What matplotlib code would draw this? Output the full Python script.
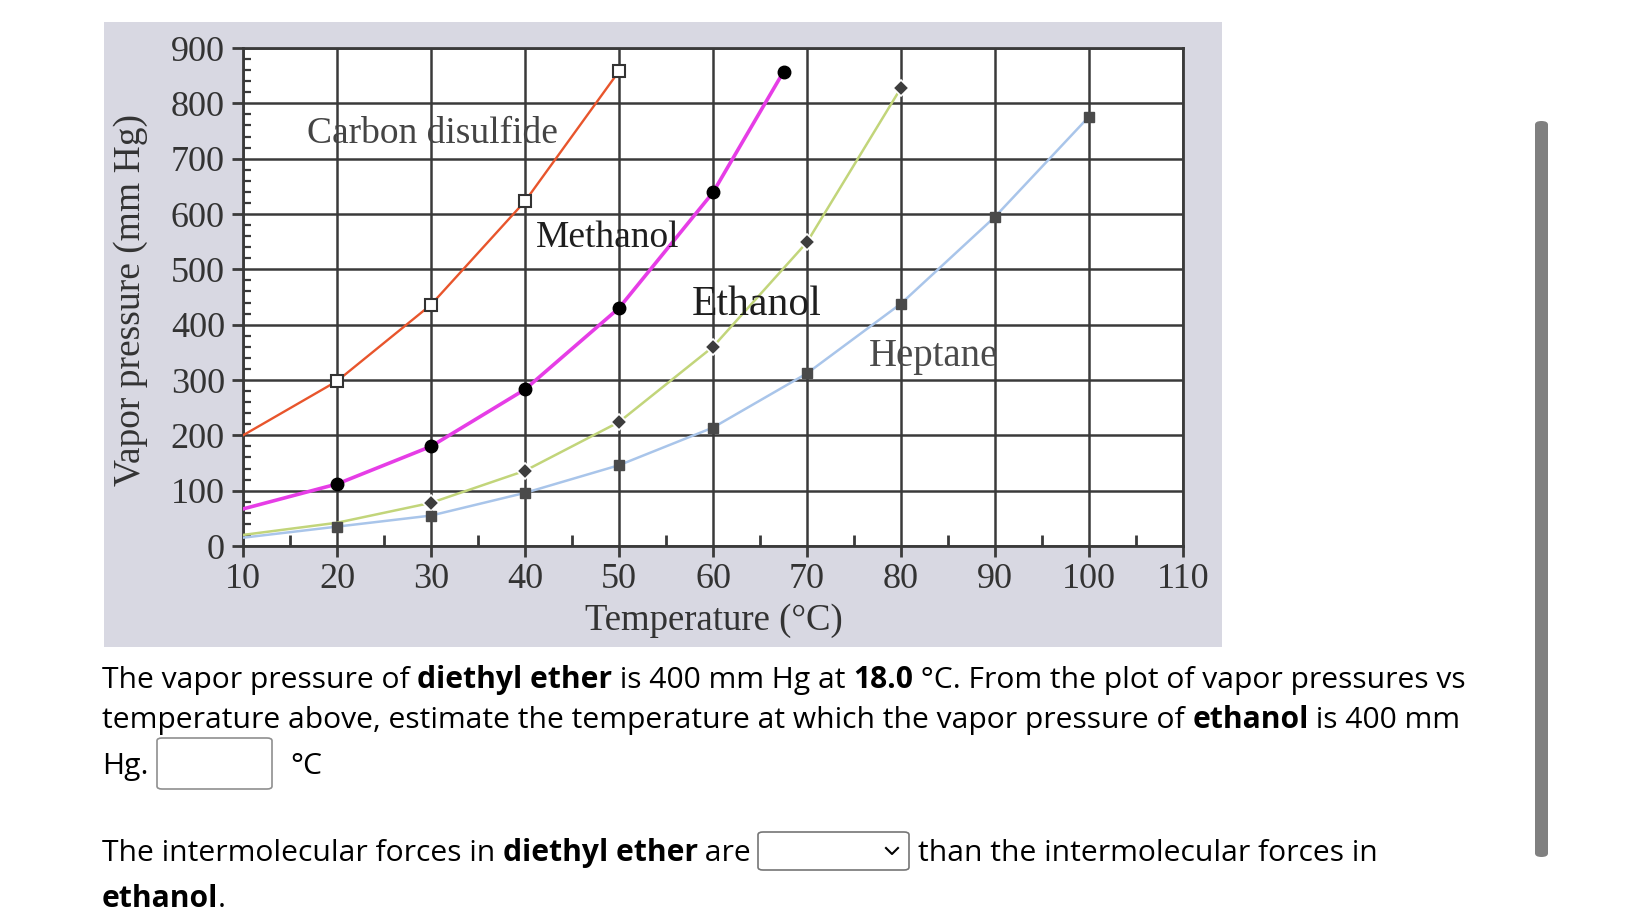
import matplotlib
matplotlib.use("Agg")
import matplotlib.pyplot as plt
from matplotlib.patches import Rectangle, FancyBboxPatch
from matplotlib.lines import Line2D
from matplotlib.ticker import MultipleLocator

# Data (temperature in C, vapor pressure in mm Hg)
cs2_temp = [10, 20, 30, 40, 50]
cs2_vp = [200, 298, 436, 623, 858]

methanol_temp = [10, 20, 30, 40, 50, 60, 67.5]
methanol_vp = [67, 112, 180, 283, 430, 639, 857]

ethanol_temp = [10, 20, 30, 40, 50, 60, 70, 80]
ethanol_vp = [20, 42, 78, 136, 224, 360, 549, 828]

heptane_temp = [10, 20, 30, 40, 50, 60, 70, 80, 90, 100]
heptane_vp = [15, 35, 55, 96, 146, 214, 312, 438, 595, 776]

x_ticks = [10, 20, 30, 40, 50, 60, 70, 80, 90, 100, 110]
y_ticks = [0, 100, 200, 300, 400, 500, 600, 700, 800, 900]

W, H = 1651, 922
fig = plt.figure(figsize=(W / 100, H / 100), dpi=100)
fig.patch.set_facecolor("white")


def fx(px):
    return px / W


def fy(py):
    return 1 - py / H


# grey photo background behind the chart
fig.patches.append(Rectangle((fx(104), fy(647)), 1118 / W, 625 / H,
                             transform=fig.transFigure, facecolor="#d8d8e2",
                             edgecolor="none", zorder=-5))

ax = fig.add_axes([fx(243), fy(546), 940 / W, 498 / H])
ax.set_facecolor("white")
grid_col = "#3a3a3a"

ax.plot(cs2_temp, cs2_vp, color="#e8552c", lw=1.7, zorder=3,
        marker="s", markevery=slice(1, None), ms=8, mfc="white", mec="#333333", mew=1.5)
ax.plot(methanol_temp, methanol_vp, color="#e63de6", lw=2.6, zorder=3,
        marker="o", markevery=slice(1, None), ms=9, mfc="black", mec="black")
ax.plot(ethanol_temp, ethanol_vp, color="#c2d57a", lw=1.8, zorder=3,
        marker="D", markevery=slice(2, None), ms=8, mfc="#3d3d3d", mec="white", mew=1.2)
ax.plot(heptane_temp, heptane_vp, color="#a9c5ea", lw=1.8, zorder=3,
        marker="s", markevery=slice(1, None), ms=7.5, mfc="#4a4a4a", mec="#4a4a4a")

serif = "Liberation Serif"
lab_col = "#333333"
ax.text(30.2, 745, "Carbon disulfide", fontsize=27, family=serif, color="#444444",
        ha="center", va="center", zorder=5)
ax.text(48.8, 557, "Methanol", fontsize=27, family=serif, color="#1e1e1e",
        ha="center", va="center", zorder=5)
ax.text(64.6, 436, "Ethanol", fontsize=30, family=serif, color="#1e1e1e",
        ha="center", va="center", zorder=5)
ax.text(83.5, 343, "Heptane", fontsize=28, family=serif, color="#4a4a4a",
        ha="center", va="center", zorder=5)

ax.set_xlim(10, 110)
ax.set_ylim(0, 900)
ax.set_xticks(x_ticks)
ax.set_yticks(y_ticks)
ax.xaxis.set_minor_locator(MultipleLocator(5))
ax.yaxis.set_minor_locator(MultipleLocator(20))
ax.grid(True, which="major", color=grid_col, lw=1.8, zorder=1)
for s in ax.spines.values():
    s.set_color(grid_col)
    s.set_linewidth(2.0)
ax.tick_params(axis="x", which="major", direction="out", length=8, width=2,
               color=grid_col, pad=4, labelsize=26, labelcolor=lab_col)
ax.tick_params(axis="x", which="minor", direction="in", length=8, width=2, color=grid_col)
ax.tick_params(axis="y", which="major", direction="out", length=8, width=2,
               color=grid_col, pad=5, labelsize=26, labelcolor=lab_col)
ax.tick_params(axis="y", which="minor", direction="in", length=6, width=1.6, color=grid_col)
for lab in ax.get_xticklabels() + ax.get_yticklabels():
    lab.set_family(serif)

fig.text(fx(131), fy(300), "Vapor pressure (mm Hg)", rotation=90, fontsize=27,
         family=serif, color=lab_col, ha="center", va="center")
fig.text(fx(714), fy(621), "Temperature (\u00b0C)", fontsize=26.5, family=serif,
         color=lab_col, ha="center", va="center")

# question text under the chart
sans = "Open Sans"
qsize = 21.6
renderer = fig.canvas.get_renderer()


def text_width(s, weight):
    t1 = fig.text(0, 0, "x" + s + "x", fontsize=qsize, family=sans, weight=weight)
    t2 = fig.text(0, 0, "xx", fontsize=qsize, family=sans, weight=weight)
    w = t1.get_window_extent(renderer).width - t2.get_window_extent(renderer).width
    t1.remove()
    t2.remove()
    return w


def write_line(x, y, pieces):
    for s, weight in pieces:
        fig.text(fx(x), fy(y), s, fontsize=qsize, family=sans, weight=weight,
                 color="black", ha="left", va="center")
        x += text_width(s, weight)
    return x


write_line(102, 680, [("The vapor pressure of ", "normal"), ("diethyl ether", "bold"),
                      (" is 400 mm Hg at ", "normal"), ("18.0", "bold"),
                      (" \u00b0C. From the plot of vapor pressures vs", "normal")])
write_line(102, 720, [("temperature above, estimate the temperature at which the vapor pressure of ", "normal"),
                      ("ethanol", "bold"), (" is 400 mm", "normal")])
write_line(102, 766, [("Hg.", "normal")])
fig.patches.append(FancyBboxPatch((fx(157), fy(789)), 115 / W, 51 / H,
                                  boxstyle="round,pad=0,rounding_size=0.003",
                                  transform=fig.transFigure, facecolor="white",
                                  edgecolor="#8f8f8f", lw=1.2))
write_line(290, 766, [("\u00b0C", "normal")])

write_line(102, 853, [("The intermolecular forces in ", "normal"), ("diethyl ether", "bold"),
                      (" are", "normal")])
fig.patches.append(FancyBboxPatch((fx(758), fy(870)), 151 / W, 38 / H,
                                  boxstyle="round,pad=0,rounding_size=0.003",
                                  transform=fig.transFigure, facecolor="white",
                                  edgecolor="#767676", lw=1.2))
fig.lines.append(Line2D([fx(886), fx(892), fx(898)], [fy(848), fy(854), fy(848)],
                        transform=fig.transFigure, color="black", lw=1.5))
write_line(918, 853, [("than the intermolecular forces in", "normal")])
write_line(102, 899, [("ethanol", "bold"), (".", "normal")])

# scroll bar at the right
fig.patches.append(FancyBboxPatch((fx(1535), fy(857)), 13 / W, 736 / H,
                                  boxstyle="round,pad=0,rounding_size=0.004",
                                  transform=fig.transFigure, facecolor="#808080",
                                  edgecolor="none"))

fig.savefig("out.png", dpi=100)
